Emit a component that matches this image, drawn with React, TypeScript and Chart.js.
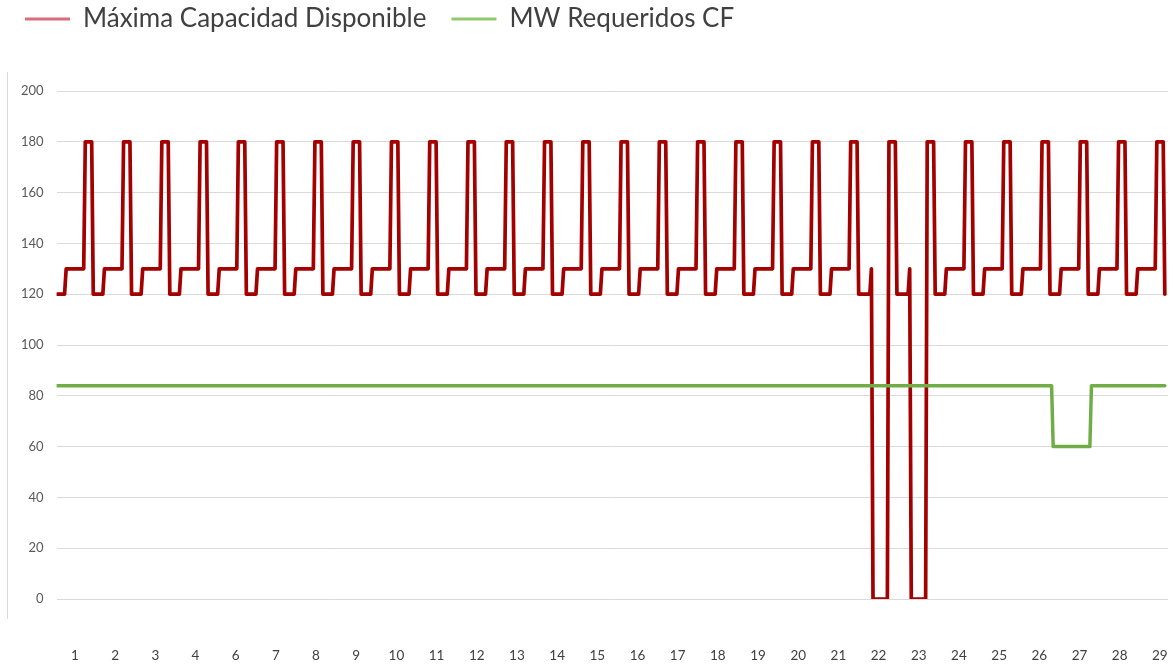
import React, { useEffect, useRef } from "react";
import { Chart, registerables } from "chart.js";

Chart.register(...registerables);

// Day labels shown under the axis (the source skips "5")
const dayLabels = [
  "1", "2", "3", "4", "6", "7", "8", "9", "10", "11", "12", "13", "14", "15",
  "16", "17", "18", "19", "20", "21", "22", "23", "24", "25", "26", "27", "28", "29",
];

// Hourly profile of "Máxima Capacidad Disponible" (MW) on a normal day
const capNormalDay = [
  120, 120, 120, 120, 120, 120, 130, 130, 130, 130, 130, 130,
  130, 130, 130, 130, 130, 130, 180, 180, 180, 180, 180, 120,
];
// Hourly profile on the outage days (22 and 23)
const capOutageDay = [
  120, 120, 120, 120, 120, 120, 120, 130, 0, 0, 0, 0,
  0, 0, 0, 0, 0, 0, 180, 180, 180, 180, 180, 120,
];

// Hourly "MW Requeridos CF"
const reqNormalDay = [
  84, 84, 84, 84, 84, 84, 84, 84, 84, 84, 84, 84,
  84, 84, 84, 84, 84, 84, 84, 84, 84, 84, 84, 84,
];
const reqDay27 = [
  84, 60, 60, 60, 60, 60, 60, 60, 60, 60, 60, 60,
  60, 60, 60, 60, 60, 60, 60, 60, 60, 60, 60, 60,
];
const reqDay28 = [
  60, 84, 84, 84, 84, 84, 84, 84, 84, 84, 84, 84,
  84, 84, 84, 84, 84, 84, 84, 84, 84, 84, 84, 84,
];

// 29 days of data
const capacityByDay = [
  capNormalDay, capNormalDay, capNormalDay, capNormalDay, capNormalDay,
  capNormalDay, capNormalDay, capNormalDay, capNormalDay, capNormalDay,
  capNormalDay, capNormalDay, capNormalDay, capNormalDay, capNormalDay,
  capNormalDay, capNormalDay, capNormalDay, capNormalDay, capNormalDay,
  capNormalDay, capOutageDay, capOutageDay, capNormalDay, capNormalDay,
  capNormalDay, capNormalDay, capNormalDay, capNormalDay,
];
const requiredByDay = [
  reqNormalDay, reqNormalDay, reqNormalDay, reqNormalDay, reqNormalDay,
  reqNormalDay, reqNormalDay, reqNormalDay, reqNormalDay, reqNormalDay,
  reqNormalDay, reqNormalDay, reqNormalDay, reqNormalDay, reqNormalDay,
  reqNormalDay, reqNormalDay, reqNormalDay, reqNormalDay, reqNormalDay,
  reqNormalDay, reqNormalDay, reqNormalDay, reqNormalDay, reqNormalDay,
  reqNormalDay, reqDay27, reqDay28, reqNormalDay,
];

const seriesNames = ["Máxima Capacidad Disponible", "MW Requeridos CF"];

const RED = "#a30000";
const GREEN = "#70ad47";
const RED_LEGEND = "#d66f79";
const GREEN_LEGEND = "#93c773";

export default function App() {
  const ref = useRef<HTMLCanvasElement | null>(null);

  useEffect(() => {
    document.body.style.margin = "0";
    const capacity = capacityByDay.flat();
    const required = requiredByDay.flat();
    const legendColors = [RED_LEGEND, GREEN_LEGEND];

    const legendSpacer = {
      id: "legendSpacer",
      beforeInit(chart: any) {
        const legend = chart.legend;
        if (!legend) return;
        const fit = legend.fit;
        legend.fit = function () {
          fit.call(legend);
          legend.height = 110;
        };
      },
    };

    const chart = new Chart(ref.current as HTMLCanvasElement, {
      type: "line",
      data: {
        datasets: [
          {
            label: seriesNames[0],
            data: capacity.map((y, i) => ({ x: i, y })),
            borderColor: RED,
            backgroundColor: RED,
            borderWidth: 3.7,
            pointRadius: 0,
            tension: 0,
            borderJoinStyle: "round",
            borderCapStyle: "round",
            order: 1,
          },
          {
            label: seriesNames[1],
            data: required.map((y, i) => ({ x: i, y })),
            borderColor: GREEN,
            backgroundColor: GREEN,
            borderWidth: 3.5,
            pointRadius: 0,
            tension: 0,
            borderJoinStyle: "round",
            borderCapStyle: "round",
            order: 0,
          },
        ],
      },
      options: {
        animation: false,
        responsive: false,
        maintainAspectRatio: false,
        layout: { padding: { top: -19, left: 0, right: 5, bottom: 0 } },
        plugins: {
          tooltip: { enabled: false },
          legend: {
            position: "top",
            align: "start",
            labels: {
              usePointStyle: true,
              pointStyleWidth: 45,
              padding: 25,
              color: "#404040",
              font: { family: "Lato", size: 26 },
              generateLabels: () =>
                seriesNames.map((name, i) => ({
                  text: name,
                  datasetIndex: i,
                  pointStyle: "line",
                  strokeStyle: legendColors[i],
                  fillStyle: legendColors[i],
                  lineWidth: 3,
                  fontColor: "#404040",
                  hidden: false,
                })),
            },
          },
        },
        scales: {
          x: {
            type: "linear",
            min: 0,
            max: 697,
            grid: { display: false },
            border: { display: false },
            afterBuildTicks: (axis: any) => {
              axis.ticks = dayLabels.map((_, k) => ({ value: 11.5 + 25.2 * k }));
            },
            afterFit: (axis: any) => {
              axis.height = 69;
              axis.paddingLeft = 0;
              axis.paddingRight = 0;
            },
            ticks: {
              autoSkip: false,
              maxRotation: 0,
              minRotation: 0,
              padding: 41,
              color: "#404040",
              font: { family: "Lato", size: 13.5 },
              callback: (_v: any, i: number) => dayLabels[i],
            },
          },
          y: {
            min: 0,
            max: 200,
            grid: { color: "#d9d9d9", lineWidth: 1, drawTicks: false },
            border: { display: false },
            afterFit: (axis: any) => {
              axis.width = 56.6;
              axis.paddingTop = 0;
              axis.paddingBottom = 0;
            },
            ticks: {
              stepSize: 20,
              padding: 13,
              color: "#595959",
              font: { family: "Lato", size: 13 },
            },
          },
        },
      },
      plugins: [legendSpacer],
    });
    return () => chart.destroy();
  }, []);

  return (
    <div style={{ position: "relative", width: 1173, height: 668 }}>
      <canvas ref={ref} width={1173} height={668} style={{ display: "block" }} />
      <div
        style={{
          position: "absolute",
          left: 7,
          top: 72,
          height: 547,
          borderLeft: "1px solid #d9d9d9",
        }}
      />
    </div>
  );
}
